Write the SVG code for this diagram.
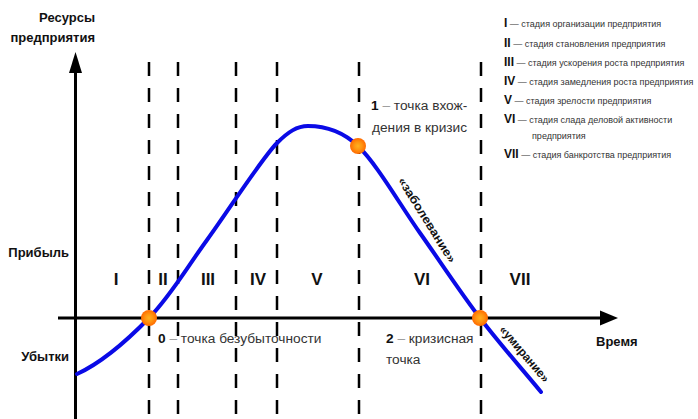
<svg xmlns="http://www.w3.org/2000/svg" width="698" height="419" viewBox="0 0 698 419">
<defs>
<style>
.lbl{font-family:"Liberation Sans",Arial,sans-serif;font-weight:bold;font-size:13px;fill:#111}
.num{font-family:"Liberation Sans",Arial,sans-serif;font-weight:bold;font-size:17px;fill:#111;text-anchor:middle}
.txt{font-family:"Liberation Sans",Arial,sans-serif;font-size:13.7px;fill:#333}
.txt .b{font-weight:bold;fill:#111}
.dash{fill:#999}
.leg{font-family:"Liberation Sans",Arial,sans-serif;font-size:9px;fill:#333}
.leg .b{font-weight:bold;font-size:12px;fill:#111}
.rot{font-family:"Liberation Sans",Arial,sans-serif;font-weight:bold;font-size:12px;fill:#111;text-anchor:middle}
.grid{stroke:#000;stroke-width:2.5;stroke-dasharray:14 12;fill:none}
.axis{stroke:#000;stroke-width:3;fill:none}
.curve{stroke:#0a0ae6;stroke-width:4;fill:none;stroke-linecap:round}
</style>
<radialGradient id="dot">
<stop offset="0" stop-color="#ffb020"/>
<stop offset="0.5" stop-color="#ff9410"/>
<stop offset="1" stop-color="#ff6a00"/>
</radialGradient>
</defs>
<rect width="698" height="419" fill="#fff"/>

<g id="grid">
<line class="grid" x1="149" y1="62" x2="149" y2="419"/>
<line class="grid" x1="178" y1="62" x2="178" y2="419"/>
<line class="grid" x1="236" y1="62" x2="236" y2="419"/>
<line class="grid" x1="277" y1="62" x2="277" y2="419"/>
<line class="grid" x1="359" y1="62" x2="359" y2="419"/>
<line class="grid" x1="481" y1="62" x2="481" y2="419"/>
</g>

<g id="axes">
<line class="axis" x1="75.5" y1="70" x2="75.5" y2="419"/>
<polygon points="75.5,52 69,73 82,73" fill="#000"/>
<line class="axis" x1="58" y1="318" x2="602" y2="318"/>
<polygon points="618,318 600,310.5 600,325.5" fill="#000"/>
</g>

<g id="connectors">
<path class="curve" d="M77,374 C101,363 127.3,340.3 149,318 C170.7,295.7 185.7,269.3 207,240 C228.3,210.7 262,158 277,143 C288,132 297,126 308,126 C321,126 339.3,128.2 358,146 C376.7,163.8 399.7,204.3 420,233 C440.3,261.7 459.8,291.5 480,318 C500.2,344.5 520.7,367.3 541,392"/>
</g>

<g id="point0"><circle cx="149" cy="318" r="8" fill="url(#dot)"/></g>
<g id="point1"><circle cx="358" cy="146" r="8" fill="url(#dot)"/></g>
<g id="point2"><circle cx="480" cy="318" r="8" fill="url(#dot)"/></g>

<g id="axis-labels">
<text class="lbl" x="95" y="22" text-anchor="end">Ресурсы</text>
<text class="lbl" x="95" y="42" text-anchor="end">предприятия</text>
<text class="lbl" x="69" y="257" text-anchor="end">Прибыль</text>
<text class="lbl" x="69" y="361" text-anchor="end">Убытки</text>
<text class="lbl" x="596" y="346">Время</text>
</g>

<g id="stages">
<text class="num" x="116" y="285">I</text>
<text class="num" x="163" y="285">II</text>
<text class="num" x="208" y="285">III</text>
<text class="num" x="258" y="285">IV</text>
<text class="num" x="317" y="285">V</text>
<text class="num" x="422" y="285">VI</text>
<text class="num" x="520" y="285">VII</text>
</g>

<g id="point-labels">
<text class="txt" x="158" y="343"><tspan class="b">0</tspan> <tspan class="dash">–</tspan> точка безубыточности</text>
<text class="txt" x="371" y="110"><tspan class="b">1</tspan> <tspan class="dash">–</tspan> точка вхож-</text>
<text class="txt" x="372" y="132">дения в кризис</text>
<text class="txt" x="386" y="343"><tspan class="b">2</tspan> <tspan class="dash">–</tspan> кризисная</text>
<text class="txt" x="386" y="364">точка</text>
</g>

<g id="curve-labels">
<text class="rot" transform="translate(427,220) rotate(58)" dy="4" textLength="98" lengthAdjust="spacingAndGlyphs">«заболевание»</text>
<text class="rot" transform="translate(524.5,354) rotate(49.7)" dy="4" textLength="70" lengthAdjust="spacingAndGlyphs">«умирание»</text>
</g>

<g id="legend">
<text class="leg" x="504" y="27"><tspan class="b">I</tspan> — стадия организации предприятия</text>
<text class="leg" x="504" y="47"><tspan class="b">II</tspan> — стадия становления предприятия</text>
<text class="leg" x="504" y="66"><tspan class="b">III</tspan> — стадия ускорения роста предприятия</text>
<text class="leg" x="504" y="85"><tspan class="b">IV</tspan> — стадия замедления роста предприятия</text>
<text class="leg" x="504" y="104"><tspan class="b">V</tspan> — стадия зрелости предприятия</text>
<text class="leg" x="504" y="123"><tspan class="b">VI</tspan> — стадия слада деловой активности</text>
<text class="leg" x="532" y="139">предприятия</text>
<text class="leg" x="504" y="158"><tspan class="b">VII</tspan> — стадия банкротства предприятия</text>
</g>
</svg>
